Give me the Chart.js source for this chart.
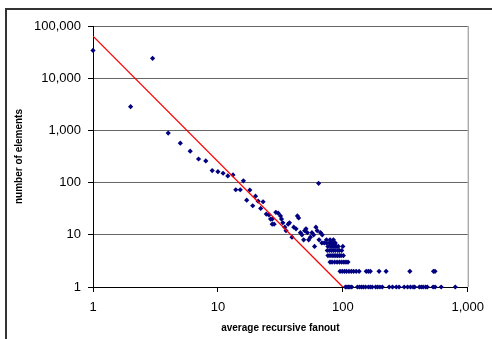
<!DOCTYPE html>
<html>
<head>
<meta charset="utf-8">
<script src="https://cdn.jsdelivr.net/npm/chart.js@4.4.0/dist/chart.umd.min.js"></script>
<style>
    html, body { margin: 0; padding: 0; background: #fff; }
    #wrap { width: 492px; height: 339px; }
</style>
</head>
<body>
<div id="wrap"><canvas id="fanoutChart" width="492" height="339"></canvas></div>
<script>
// Individual measurements: average recursive fanout vs. number of elements
const fanout = [1, 2, 3, 4, 5, 6, 7, 8, 9, 10, 11, 12, 13.2, 13.9, 15.1, 16, 17, 18, 19, 20, 21, 22, 23,
    24.4, 25.6, 26.4, 27.2, 27.2, 28.2, 29.1, 30.4, 31.7, 32.3, 33.1, 34.3, 35.1, 36.5, 37.4, 39.2, 40.5,
    42.2, 43.3, 44.3, 45.7, 47.1, 48.6, 49.5, 50.7, 52, 53.3, 55, 56.6, 58.4, 59.4, 60.9, 62.4, 64, 64.5,
    66.3, 68.4, 74, 79, 84];
const elements = [34000, 2850, 24000, 890, 570, 400, 283, 260, 170, 162, 151, 134, 140, 73, 73, 108, 46, 72, 36, 55, 44, 32, 43,
    25, 24, 20, 20, 16, 16, 27, 26, 23, 20, 17, 14, 12, 16, 17, 9, 14,
    13, 23, 21, 11, 10, 8, 12, 13, 11, 8, 9, 11, 10, 6, 14, 12, 97, 8,
    11, 10, 8, 8, 8];

// Fanout values of the elements that share the same small count
const fanoutAt7 = [68, 71, 74, 78, 81, 84, 87];
const fanoutAt6 = [76, 80, 83, 86, 89, 92, 100];
const fanoutAt5 = [75, 78, 81, 84, 87, 91, 94, 98];
const fanoutAt4 = [76, 79, 82, 85, 88, 91, 94, 97, 101];
const fanoutAt3 = [79, 82, 86, 90, 94, 98, 102, 106, 110];
const fanoutAt2 = [95, 99, 103, 107, 112, 117, 122, 128, 135, 154, 160, 166, 195, 222, 344, 532, 547];
const fanoutAt1 = [105, 108, 111, 114, 118, 131, 136, 141, 146, 152, 160, 166, 172, 183, 190, 198, 207,
    235, 250, 268, 282, 310, 330, 348, 365, 376, 410, 425, 440, 460, 475, 528, 548, 613, 795];

// Power-law fit line
const fitX = [1, 100];
const fitY = [64000, 1];

const xTicks = [1, 10, 100, 1000];
const yTicks = [1, 10, 100, 1000, 10000, 100000];

const points = fanout.map((x, i) => ({ x: x, y: elements[i] }));
[[7, fanoutAt7], [6, fanoutAt6], [5, fanoutAt5], [4, fanoutAt4], [3, fanoutAt3], [2, fanoutAt2], [1, fanoutAt1]].forEach(([count, xs]) => {
    xs.forEach(x => points.push({ x: x, y: count }));
});

const tickFont = { family: 'Liberation Sans, Arial, sans-serif', size: 13 };
const titleFont = { family: 'Liberation Sans, Arial, sans-serif', size: 10, weight: 'bold' };

// Outer frame and the grey right edge of the plot area
const framePlugin = {
    id: 'frame',
    beforeDraw(chart) {
        const ctx = chart.ctx;
        ctx.save();
        ctx.fillStyle = '#fff';
        ctx.fillRect(0, 0, chart.width, chart.height);
        ctx.strokeStyle = '#333';
        ctx.lineWidth = 2;
        ctx.beginPath();
        ctx.moveTo(6, chart.height);
        ctx.lineTo(6, 9);
        ctx.lineTo(chart.width, 9);
        ctx.stroke();
        ctx.restore();
    },
    beforeDatasetsDraw(chart) {
        const { ctx, chartArea } = chart;
        ctx.save();
        ctx.strokeStyle = '#888';
        ctx.lineWidth = 1;
        ctx.beginPath();
        ctx.moveTo(chartArea.right + 0.5, chartArea.top);
        ctx.lineTo(chartArea.right + 0.5, chartArea.bottom);
        ctx.stroke();
        ctx.restore();
    }
};

const ctx = document.getElementById('fanoutChart').getContext('2d');
const fanoutChart = new Chart(ctx, {
    type: 'scatter',
    data: {
        datasets: [
            {
                type: 'line',
                data: fitX.map((x, i) => ({ x: x, y: fitY[i] })),
                borderColor: '#ff0000',
                borderWidth: 1.3,
                pointRadius: 0,
                fill: false,
                tension: 0
            },
            {
                data: points,
                pointStyle: 'rectRot',
                pointRadius: 2.6,
                backgroundColor: '#000080',
                borderWidth: 0,
                clip: false
            }
        ]
    },
    options: {
        responsive: false,
        animation: false,
        layout: { padding: { top: 26, right: 22, left: 0, bottom: 0 } },
        plugins: {
            legend: { display: false },
            tooltip: { enabled: false }
        },
        scales: {
            x: {
                type: 'logarithmic',
                position: 'bottom',
                min: 1,
                max: 1000,
                afterBuildTicks: scale => { scale.ticks = xTicks.map(v => ({ value: v })); },
                afterFit: scale => { scale.height = 52; },
                grid: { drawOnChartArea: false, drawTicks: true, tickLength: 5, tickColor: '#000' },
                border: { color: '#000', width: 1 },
                ticks: {
                    callback: v => v.toLocaleString('en-US'),
                    font: tickFont,
                    color: '#000',
                    padding: 8,
                    maxRotation: 0,
                    autoSkip: false
                },
                title: {
                    display: true,
                    text: 'average recursive fanout',
                    font: titleFont,
                    color: '#000',
                    padding: { top: 0, bottom: 5 }
                }
            },
            y: {
                type: 'logarithmic',
                min: 1,
                max: 100000,
                afterBuildTicks: scale => { scale.ticks = yTicks.map(v => ({ value: v })); },
                afterFit: scale => { scale.width = 93; },
                grid: { color: '#666', tickColor: '#000', tickLength: 5 },
                border: { color: '#000', width: 1 },
                ticks: {
                    callback: v => v.toLocaleString('en-US'),
                    font: tickFont,
                    color: '#000',
                    padding: 7
                },
                title: {
                    display: true,
                    text: 'number of elements',
                    font: titleFont,
                    color: '#000',
                    padding: { top: 13, bottom: 0 }
                }
            }
        }
    },
    plugins: [framePlugin]
});
</script>
</body>
</html>
